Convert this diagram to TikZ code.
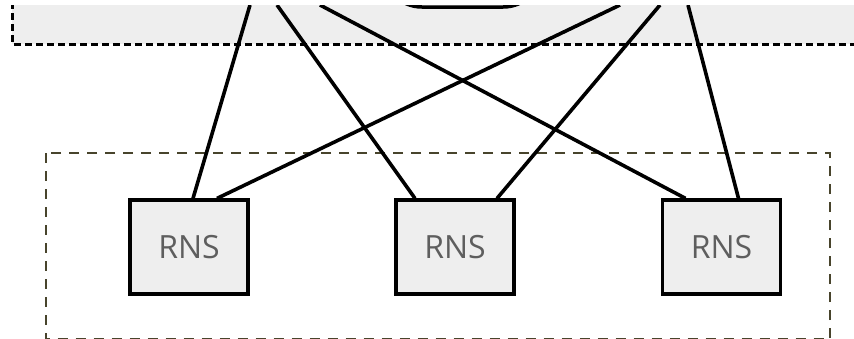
\documentclass[tikz,border=0pt]{standalone}
\usepackage{fontspec}
\usepackage{tikz}
\newfontfamily\rnsfont{Open Sans}
\definecolor{zonegray}{HTML}{EEEEEE}
\definecolor{boxgray}{HTML}{EEEEEE}
\definecolor{labelgray}{HTML}{5E5E5E}
\definecolor{olive}{HTML}{48442C}
\tikzset{topzone/.style={fill=zonegray, draw=black, line width=3pt, dash pattern=on 7pt off 4pt}}
\tikzset{rnszone/.style={draw=olive, line width=2.5pt, dash pattern=on 10pt off 8pt}}
\tikzset{rnsbox/.style={draw=black, fill=boxgray, line width=3.2pt, minimum width=118pt, minimum height=94pt,
    font=\rnsfont\fontsize{32}{32}\selectfont, text=labelgray}}
\tikzset{hubbox/.style={draw=black, line width=3.5pt, rounded corners=40pt, minimum width=161pt, minimum height=80pt}}
\tikzset{link/.style={draw=black, line width=3.6pt}}

\begin{document}
\begin{tikzpicture}[x=1pt,y=-1pt]
                \useasboundingbox (0,0) rectangle (854,338);
                \clip (0,5) rectangle (854,338.5);

                % Upper zone, mostly off the page
                \filldraw[topzone] (12,-20) rectangle (880,44);
                \node[hubbox] (hub) at (462.5,-33) {};

                % Lower zone
                \draw[rnszone] (46,153) rectangle (830,339.5);

                % RNS boxes
                \node[rnsbox] (rnsA) at (189,247) {RNS};
                \node[rnsbox] (rnsB) at (455,247) {RNS};
                \node[rnsbox] (rnsC) at (721.5,247) {RNS};

                % Links coming down from above
                \coordinate (up1) at (250,5);
                \coordinate (up2) at (277,5);
                \coordinate (up3) at (320,5);
                \coordinate (up4) at (620,5);
                \coordinate (up5) at (660,5);
                \coordinate (up6) at (688,5);

                \draw[link] (up1) -- ([xshift=4pt]rnsA.north);
                \draw[link] (up4) -- ([xshift=28pt]rnsA.north);
                \draw[link] (up2) -- ([xshift=-40pt]rnsB.north);
                \draw[link] (up5) -- ([xshift=42pt]rnsB.north);
                \draw[link] (up3) -- ([xshift=-36pt]rnsC.north);
                \draw[link] (up6) -- ([xshift=17pt]rnsC.north);
            \end{tikzpicture}
\end{document}
